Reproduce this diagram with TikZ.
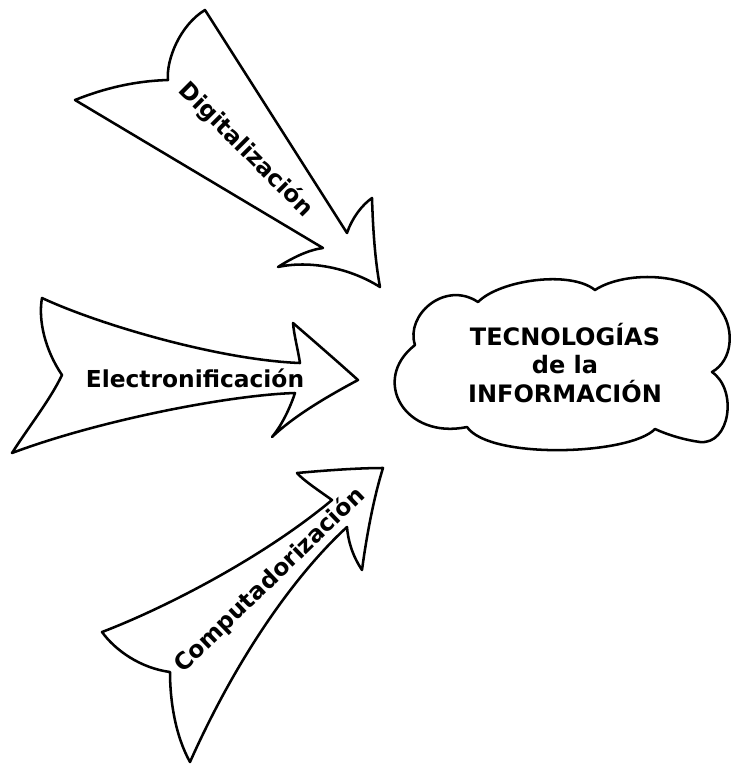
\documentclass[tikz,border=0pt]{standalone}
\usepackage{fontspec}
\setmainfont{DejaVu Sans}

\begin{document}
\begin{tikzpicture}[x=0.75pt,y=-0.75pt,line join=round,
  flecha/.style={draw,line width=1.9pt},
  rotulo/.style={font=\fontsize{17.5}{21.4}\selectfont\bfseries,inner sep=0pt}]
\useasboundingbox (0,0) rectangle (731,765);
  %arrow 1
  \draw[flecha] (75,100) .. controls (105,88) and (135,81) .. (168,80)
    .. controls (166,60) and (180,25) .. (205,10)
    -- (347,233) .. controls (352,218) and (362,205) .. (372,198)
    .. controls (373,230) and (375,260) .. (380,287)
    .. controls (350,268) and (310,260) .. (278,267)
    .. controls (292,258) and (308,250) .. (323,248) -- cycle;
  \node[rotulo,rotate=-45] (dig) at (246,150) {Digitalización};
  %arrow 2
  \draw[flecha] (42,298) .. controls (100,325) and (220,360) .. (300,363)
    .. controls (298,350) and (294,335) .. (293,323)
    .. controls (315,342) and (338,362) .. (358,380)
    .. controls (330,395) and (295,415) .. (272,437)
    .. controls (282,425) and (290,408) .. (295,393)
    .. controls (230,395) and (100,420) .. (12,453)
    .. controls (30,425) and (50,400) .. (62,375)
    .. controls (45,350) and (38,320) .. cycle;
  \node[rotulo] (ele) at (195,378) {Electronificación};
  %arrow 3
  \draw[flecha] (190,762) .. controls (175,735) and (170,700) .. (170,672)
    .. controls (140,668) and (115,650) .. (102,632)
    .. controls (160,610) and (260,560) .. (332,500)
    .. controls (318,490) and (303,480) .. (297,473)
    .. controls (330,470) and (360,468) .. (383,468)
    .. controls (373,500) and (366,540) .. (362,570)
    .. controls (352,555) and (348,540) .. (347,527)
    .. controls (300,570) and (240,650) .. cycle;
  \node[rotulo,rotate=44] (com) at (270,580) {Computadorización};
  %cloud
  \draw[flecha] (415,345) .. controls (405,315) and (445,280) .. (478,302)
    .. controls (500,280) and (570,270) .. (595,290)
    .. controls (625,270) and (700,270) .. (722,312)
    .. controls (734,330) and (733,360) .. (712,372)
    .. controls (738,390) and (730,445) .. (700,442)
    .. controls (685,440) and (668,435) .. (655,429)
    .. controls (630,455) and (490,460) .. (467,427)
    .. controls (405,440) and (370,380) .. cycle;
  \node[rotulo,font=\fontsize{18}{21.4}\selectfont\bfseries,align=center] (tic) at (565,363) {TECNOLOGÍAS\\de la\\INFORMACIÓN};
\end{tikzpicture}
\end{document}
